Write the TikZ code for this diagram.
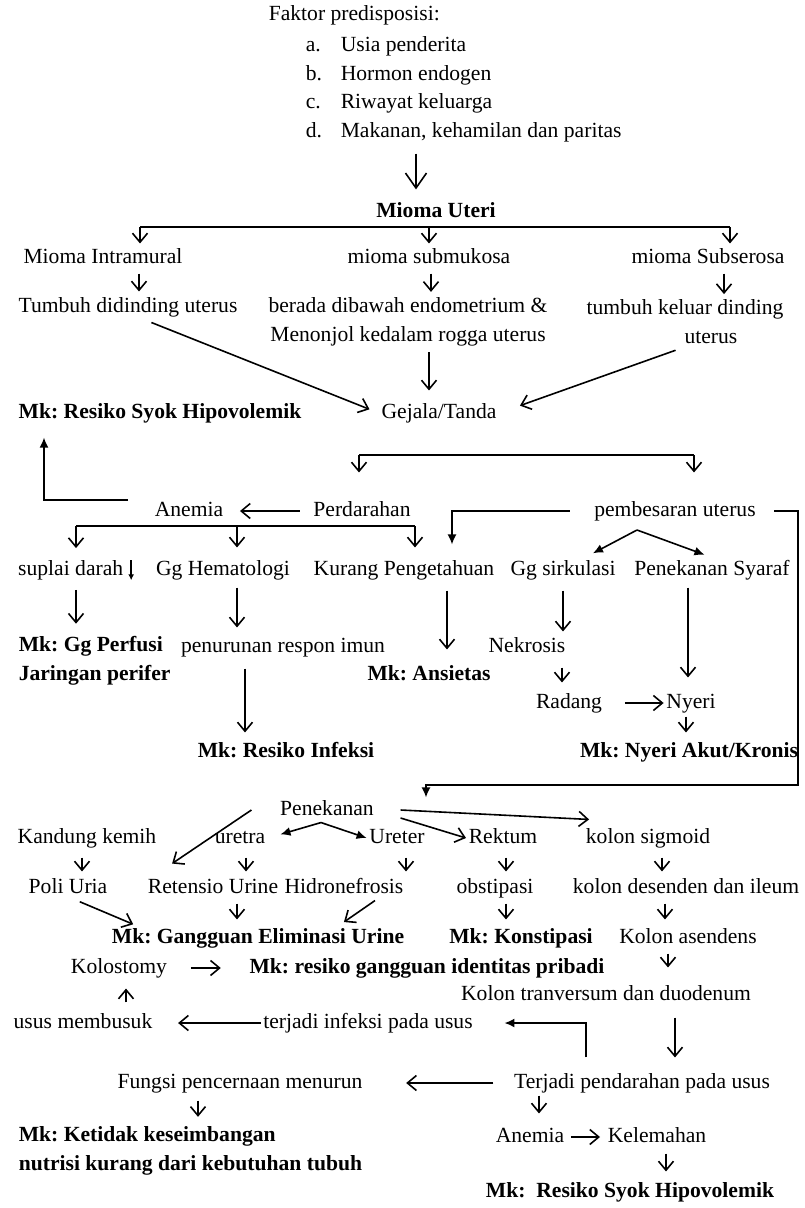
\documentclass[tikz,border=0pt]{standalone}
\usepackage{fontspec}
\setmainfont{Liberation Serif}
\usetikzlibrary{arrows.meta}
\newcommand\dfont{\fontsize{21.6pt}{29pt}\selectfont}
\frenchspacing

\begin{document}
\begin{tikzpicture}[x=1pt,y=-1pt,line width=1.6pt,
		lab/.style={font=\dfont,inner sep=2pt,text height=15pt,text depth=4.5pt},
		mk/.style={lab,font=\dfont\bfseries},
		lab2/.style={font=\dfont,inner sep=2pt},
		arr/.style={-{Straight Barb[length=9pt,width=15pt]},shorten <=4pt,shorten >=4pt},
		arrF/.style={-{Latex[length=10pt,width=9pt]},shorten <=4pt,shorten >=4pt}]
		\useasboundingbox (0,0) rectangle (805,1208);

		% Faktor predisposisi
		\node[lab,anchor=west] (fp) at (266,15) {Faktor predisposisi:};
		\foreach \nm/\lt/\tx/\yy in {ia/a./Usia penderita/46, ib/b./Hormon endogen/75, ic/c./Riwayat keluarga/103, id/d./{Makanan, kehamilan dan paritas}/132}
			\node[lab,anchor=west] (\nm) at (303,\yy) {\makebox[35pt][l]{\lt}\tx};

		% Mioma Uteri dan jenisnya
		\node[mk] (mu) at (436,212) {Mioma Uteri};
		\node[lab] (mi) at (103,258) {Mioma Intramural};
		\node[lab] (ms) at (429,258) {mioma submukosa};
		\node[lab] (mss) at (708,258) {mioma Subserosa};
		\node[lab] (tdu) at (128,307) {Tumbuh didinding uterus};
		\node[lab2,align=center] (bde) at (408,322) {berada dibawah endometrium \&\\Menonjol kedalam rogga uterus};
		\node[lab2,align=center] (tkd) at (685,322) {tumbuh keluar dinding\\\hspace*{2.4em}uterus};
		\node[lab] (gt) at (439,413) {Gejala/Tanda};
		\node[mk] (rsh) at (160,413) {Mk: Resiko Syok Hipovolemik};

		% Perdarahan dan pembesaran uterus
		\node[lab] (an) at (189,511) {Anemia};
		\node[lab] (pd) at (362,511) {Perdarahan};
		\node[lab] (pu) at (675,511) {pembesaran uterus};
		\node[lab,anchor=west] (sd) at (16,570) {suplai darah\hspace{5pt}\tikz[baseline=0pt]\draw[line width=1.5pt,-{Latex[length=6pt,width=6pt]}] (0pt,15pt) -- (0pt,-5pt);};
		\node[lab] (gh) at (223,570) {Gg Hematologi};
		\node[lab] (kp) at (404,570) {Kurang Pengetahuan};
		\node[lab] (gs) at (563,570) {Gg sirkulasi};
		\node[lab] (ps) at (712,570) {Penekanan Syaraf};
		\node[lab2,align=left,anchor=west,font=\dfont\bfseries] (gp) at (16,661) {Mk: Gg Perfusi\\Jaringan perifer};
		\node[lab] (pri) at (283,647) {penurunan respon imun};
		\node[lab] (nk) at (527,647) {Nekrosis};
		\node[mk] (ans) at (429,675) {Mk: Ansietas};
		\node[lab] (rd) at (569,703) {Radang};
		\node[lab] (ny) at (691,703) {Nyeri};
		\node[mk] (ri) at (286,752) {Mk: Resiko Infeksi};
		\node[mk] (nak) at (689,752) {Mk: Nyeri Akut/Kronis};

		% Penekanan
		\node[lab] (pn) at (327,810) {Penekanan};
		\node[lab] (kk) at (87,838) {Kandung kemih};
		\node[lab] (ur) at (240,838) {uretra};
		\node[lab] (ut) at (397,838) {Ureter};
		\node[lab] (rk) at (503,838) {Rektum};
		\node[lab] (ks) at (648,838) {kolon sigmoid};
		\node[lab] (pl) at (68,888) {Poli Uria};
		\node[lab] (rtu) at (213,888) {Retensio Urine};
		\node[lab] (hn) at (344,888) {Hidronefrosis};
		\node[lab] (ob) at (495,888) {obstipasi};
		\node[lab] (kdi) at (686,888) {kolon desenden dan ileum};
		\node[mk] (geu) at (258,938) {Mk: Gangguan Eliminasi Urine};
		\node[mk] (kon) at (521,938) {Mk: Konstipasi};
		\node[lab] (kas) at (688,938) {Kolon asendens};
		\node[lab] (kol) at (119,968) {Kolostomy};
		\node[mk] (rgi) at (427,968) {Mk: resiko gangguan identitas pribadi};
		\node[lab] (ktd) at (606,995) {Kolon tranversum dan duodenum};
		\node[lab] (um) at (83,1023) {usus membusuk};
		\node[lab] (tiu) at (368,1023) {terjadi infeksi pada usus};
		\node[lab] (fpm) at (240,1083) {Fungsi pencernaan menurun};
		\node[lab] (tpu) at (642,1083) {Terjadi pendarahan pada usus};
		\node[lab2,align=left,anchor=west,font=\dfont\bfseries] (kkt) at (16,1151) {Mk: Ketidak keseimbangan\\nutrisi kurang dari kebutuhan tubuh};
		\node[lab] (an2) at (530,1137) {Anemia};
		\node[lab] (kl) at (657,1137) {Kelemahan};
		\node[mk] (rsh2) at (630,1192) {Mk:\ \ Resiko Syok Hipovolemik};

		% Panah bagian atas
		\draw[arr,-{Straight Barb[length=15pt,width=21pt]},shorten <=9pt,shorten >=10pt] (id.south -| 416,0) -- (mu.north -| 416,0);
		\coordinate (mub) at (436,227);
		\draw (mub -| 140,0) -- (mub -| 730,0);
		\foreach \x/\n in {140/mi,429/ms,730/mss}
			\draw[arr,shorten <=0pt,shorten >=2pt] (mub -| \x,0) -- (\n.north -| \x,0);
		\foreach \a/\b/\x in {mi/tdu/139,ms/bde/431,mss/tkd/724}
			\draw[arr,shorten <=3pt,shorten >=3pt] (\a.south -| \x,0) -- (\b.north -| \x,0);
		\draw[arr,shorten <=8pt,shorten >=10pt] (tdu.south -| 144,0) -- (gt.west);
		\draw[arr,shorten <=3pt,shorten >=10pt] (bde.south -| 429,0) -- (gt.north -| 429,0);
		\draw[arr,shorten <=10pt,shorten >=22pt] (tkd.south -| 685,0) -- (gt.east);
		\draw[arrF,shorten <=0pt,shorten >=12pt] ([xshift=-24pt,yshift=11pt]an.west) -| (rsh.south -| 44,0);

		% Gejala/Tanda
		\coordinate (gtb) at (439,455);
		\draw (gtb -| 359,0) -- (gtb -| 694,0);
		\foreach \x/\n in {359/pd,694/pu}
			\draw[arr,shorten <=0pt,shorten >=26pt] (gtb -| \x,0) -- (\n.north -| \x,0);
		\draw[arr,shorten <=11pt,shorten >=14pt] (pd.west) -- (an.east);
		\draw[arrF,shorten <=0pt,shorten >=13pt] ([xshift=-22pt]pu.west) -| (kp.north -| 452,0);
		\coordinate (rr) at (798,785);
		\draw[arrF,shorten <=0pt,shorten >=0pt] ([xshift=16pt]pu.east) -| (rr) -| (pn.north -| 426,0);
		\coordinate (anb) at (76,526);
		\draw (anb) -- (anb -| 415,0);
		\foreach \x/\n in {76/sd,237/gh,415/kp}
			\draw[arr,shorten <=0pt,shorten >=10pt] (anb -| \x,0) -- (\n.north -| \x,0);
		\coordinate (puv) at (637,530);
		\draw[arrF,shorten <=0pt,shorten >=9pt] (puv) -- ([xshift=22pt]gs.north);
		\draw[arrF,shorten <=0pt,shorten >=8pt] (puv) -- (ps.north);

		% Panah baris tengah
		\draw[arr,shorten <=8pt,shorten >=10pt] (sd.south -| 76,0) -- (gp.north -| 76,0);
		\draw[arr,shorten <=5pt,shorten >=7pt] (gh.south -| 237,0) -- (pri.north -| 237,0);
		\draw[arr,shorten <=8pt,shorten >=13pt] (kp.south -| 447,0) -- (ans.north -| 447,0);
		\draw[arr,shorten <=8pt,shorten >=3pt] (gs.south -| 563,0) -- (nk.north -| 563,0);
		\draw[arr,shorten <=5pt,shorten >=13pt] (ps.south -| 688,0) -- (ny.north -| 688,0);
		\draw[arr,shorten <=8pt,shorten >=8pt] (nk.south -| 562,0) -- (rd.north -| 562,0);
		\draw[arr,shorten <=20pt,shorten >=0pt] (rd.east) -- (ny.west);
		\draw[arr,shorten <=9pt,shorten >=7pt] (pri.south -| 245,0) -- (ri.north -| 245,0);
		\draw[arr,shorten <=1pt,shorten >=7pt] (ny.south -| 686,0) -- (nak.north -| 686,0);

		% Panah dari Penekanan
		\draw[arr,shorten <=0pt,shorten >=0pt] ([xshift=-26pt]pn.west) -- ([xshift=13pt,yshift=-13pt]kk.south east);
		\draw[arrF,shorten <=0pt,shorten >=13pt] (pn.south -| 321,0) -- (ur.east);
		\draw[arrF,shorten <=0pt,shorten >=0pt] (pn.south -| 321,0) -- (ut.west);
		\draw[arr,shorten <=0pt,shorten >=0pt] ([xshift=24pt,yshift=-8pt]pn.east) -- (rk.west);
		\draw[arr,shorten <=0pt,shorten >=0pt] ([xshift=24pt]pn.east) -- ([xshift=6pt,yshift=6pt]ks.north west);
		\foreach \a/\b/\x in {kk/pl/82,ur/rtu/246,ut/hn/406,rk/ob/506,ks/kdi/662}
			\draw[arr,shorten <=7pt,shorten >=4pt] (\a.south -| \x,0) -- (\b.north -| \x,0);
		\draw[arr,shorten <=3pt,shorten >=3pt] (pl.south -| 77,0) -- (geu.north -| 136,0);
		\draw[arr,shorten <=3pt,shorten >=6pt] (rtu.south -| 237,0) -- (geu.north -| 237,0);
		\draw[arr,shorten <=0pt,shorten >=6pt] (hn.south -| 375,0) -- (geu.north -| 339,0);
		\draw[arr,shorten <=3pt,shorten >=6pt] (ob.south -| 506,0) -- (kon.north -| 506,0);
		\draw[arr,shorten <=3pt,shorten >=6pt] (kdi.south -| 665,0) -- (kas.north -| 665,0);

		% Panah bagian bawah
		\draw[arr,shorten <=3pt,shorten >=15pt] (kas.south -| 668,0) -- (ktd.north -| 668,0);
		\draw[arr,shorten <=21pt,shorten >=26pt] (kol.east) -- (rgi.west);
		\draw[arr,shorten <=8pt,shorten >=8pt] (um.north -| 126,0) -- (kol.south -| 126,0);
		\draw[arr,shorten <=0pt,shorten >=23pt] (tiu.west) -- (um.east);
		\draw[arrF,shorten <=13pt,shorten >=29pt] (tpu.north -| 586,0) |- (tiu.east);
		\draw[arr,shorten <=10pt,shorten >=13pt] (ktd.south -| 675,0) -- (tpu.north -| 675,0);
		\draw[arr,shorten <=18pt,shorten >=41pt] (tpu.west) -- (fpm.east);
		\draw[arr,shorten <=5pt,shorten >=7pt] (fpm.south -| 198,0) -- (kkt.north -| 198,0);
		\draw[arr,shorten <=0pt,shorten >=11pt] (tpu.south -| 539,0) -- (an2.north -| 539,0);
		\draw[arr,shorten <=4pt,shorten >=5pt] (an2.east) -- (kl.west);
		\draw[arr,shorten <=4pt,shorten >=8pt] (kl.south -| 666,0) -- (rsh2.north -| 666,0);
	\end{tikzpicture}
\end{document}
